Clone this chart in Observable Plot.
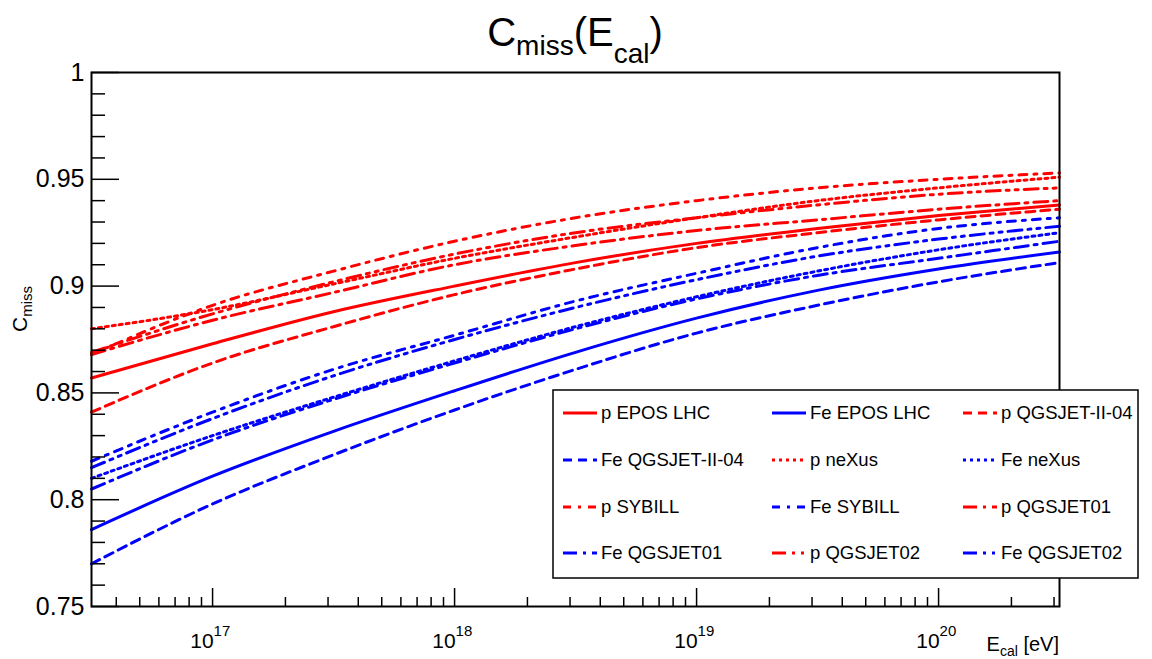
<!DOCTYPE html>
<html><head><meta charset="utf-8">
<script src="https://cdn.jsdelivr.net/npm/d3@7"></script>
<script src="https://cdn.jsdelivr.net/npm/@observablehq/plot@0.6"></script>
<style>
body{margin:0;background:#fff;}
svg{font-family:"Liberation Sans",Arial,Helvetica,sans-serif;}
</style>
</head><body><div id="chart"></div>
<script>
// ---- data ----
const energies = [3.16e16, 1e17, 3.16e17, 1e18, 3.16e18, 1e19, 3.16e19, 1e20, 3.16e20];

const pEPOS      = [0.857, 0.873, 0.888, 0.900, 0.911, 0.920, 0.927, 0.933, 0.938];
const pQGSJETII  = [0.841, 0.864, 0.881, 0.896, 0.908, 0.918, 0.925, 0.931, 0.936];
const pNeXus     = [0.880, 0.889, 0.901, 0.913, 0.923, 0.932, 0.940, 0.946, 0.951];
const pSYBILL    = [0.868, 0.891, 0.907, 0.921, 0.932, 0.940, 0.946, 0.950, 0.953];
const pQGSJET01  = [0.868, 0.884, 0.897, 0.910, 0.919, 0.926, 0.931, 0.936, 0.940];
const pQGSJET02  = [0.869, 0.887, 0.902, 0.915, 0.925, 0.932, 0.938, 0.943, 0.946];

const feEPOS     = [0.786, 0.811, 0.832, 0.851, 0.869, 0.885, 0.898, 0.908, 0.916];
const feQGSJETII = [0.770, 0.798, 0.821, 0.842, 0.861, 0.878, 0.891, 0.902, 0.911];
const feNeXus    = [0.810, 0.830, 0.848, 0.865, 0.881, 0.895, 0.907, 0.917, 0.925];
const feSYBILL   = [0.818, 0.841, 0.861, 0.877, 0.893, 0.906, 0.918, 0.927, 0.932];
const feQGSJET01 = [0.805, 0.828, 0.847, 0.864, 0.880, 0.894, 0.905, 0.913, 0.921];
const feQGSJET02 = [0.815, 0.838, 0.858, 0.875, 0.890, 0.903, 0.914, 0.922, 0.928];

const seriesNames = ["p EPOS LHC","Fe EPOS LHC","p QGSJET-II-04","Fe QGSJET-II-04","p neXus","Fe neXus",
                     "p SYBILL","Fe SYBILL","p QGSJET01","Fe QGSJET01","p QGSJET02","Fe QGSJET02"];
const seriesValues = [pEPOS, feEPOS, pQGSJETII, feQGSJETII, pNeXus, feNeXus,
                      pSYBILL, feSYBILL, pQGSJET01, feQGSJET01, pQGSJET02, feQGSJET02];

const yMajorTicks = [0.75, 0.8, 0.85, 0.9, 0.95, 1];
const xMajorTicks = [1e17, 1e18, 1e19, 1e20];
const xTickExponents = ["17", "18", "19", "20"];

// ---- styles ----
const primaryColor = {p: "#ff0000", Fe: "#0000ff"};
const modelDash = {
  "EPOS LHC": null,
  "QGSJET-II-04": "9 6",
  "neXus": "3 4",
  "SYBILL": "8 7 3 7",
  "QGSJET01": "14 6 3 6",
  "QGSJET02": "14 6 3 6 3 6"
};

const rows = [];
seriesNames.forEach((name, i) => {
  seriesValues[i].forEach((c, j) => rows.push({series: name, E: energies[j], C: c}));
});
const primaryOf = n => n.split(" ")[0];
const modelOf = n => n.slice(n.indexOf(" ") + 1);

const W = 1152, H = 659;
const mL = 91, mR = 93, mT = 72, mB = 53;
const pw = W - mL - mR, ph = H - mT - mB;

const yMinor = d3.range(76, 100).filter(v => v % 5 !== 0).map(v => v / 100);
const xMinor = [];
for (let e = 16; e <= 20; e++) for (let m = 2; m <= 9; m++) {
  const v = m * Math.pow(10, e);
  if (v >= 3.16e16 && v <= 3.16e20) xMinor.push(v);
}

const lineMarks = seriesNames.map(name => Plot.line(rows.filter(r => r.series === name), {
  x: "E", y: "C",
  stroke: primaryColor[primaryOf(name)],
  strokeWidth: 3,
  strokeDasharray: modelDash[modelOf(name)] || undefined,
  curve: "monotone-x"
}));

const plot = Plot.plot({
  width: W, height: H,
  marginLeft: mL, marginRight: mR, marginTop: mT, marginBottom: mB,
  x: {type: "log", domain: [3.16e16, 3.16e20], axis: null},
  y: {domain: [0.75, 1], axis: null},
  style: {background: "white", color: "black", fontFamily: "Liberation Sans, Arial, sans-serif"},
  marks: [
    ...lineMarks,
    // y ticks (inside frame)
    Plot.ruleY(yMajorTicks, {y: d => d, stroke: "black", strokeWidth: 1.5, insetRight: pw - 28}),
    Plot.ruleY(yMinor, {y: d => d, stroke: "black", strokeWidth: 1.5, insetRight: pw - 14}),
    // x ticks
    Plot.ruleX(xMajorTicks, {x: d => d, stroke: "black", strokeWidth: 1.5, insetTop: ph - 18}),
    Plot.ruleX(xMinor, {x: d => d, stroke: "black", strokeWidth: 1.5, insetTop: ph - 9}),
    // y tick labels
    Plot.text(yMajorTicks, {y: d => d, text: d => String(d), frameAnchor: "left", textAnchor: "end", dx: -7, fontSize: 25, fill: "black"}),
    // x tick labels 10^n
    Plot.text(xMajorTicks, {x: d => d, text: () => "10", frameAnchor: "bottom", textAnchor: "end", lineAnchor: "bottom", dy: 41, dx: 1, fontSize: 21, fill: "black"}),
    Plot.text(xMajorTicks, {x: d => d, text: (d, i) => xTickExponents[i], frameAnchor: "bottom", textAnchor: "start", lineAnchor: "bottom", dy: 29, dx: 1, fontSize: 15, fill: "black"}),
    Plot.frame({stroke: "black", strokeWidth: 2})
  ]
});

document.getElementById("chart").appendChild(plot);

const svg = d3.select(plot);
// Title
const t = svg.append("text").attr("x", 575).attr("y", 46).attr("text-anchor", "middle")
  .attr("font-size", 40).attr("fill", "black");
t.append("tspan").text("C");
t.append("tspan").attr("font-size", 28).attr("dy", 9).text("miss");
t.append("tspan").attr("dy", -9).text("(E");
t.append("tspan").attr("font-size", 28).attr("dy", 17).text("cal");
t.append("tspan").attr("dy", -17).text(")");

// Y axis title
const yt = svg.append("text").attr("transform", "translate(27,286) rotate(-90)")
  .attr("text-anchor", "end").attr("font-size", 21).attr("fill", "black");
yt.append("tspan").text("C");
yt.append("tspan").attr("font-size", 15).attr("dy", 5).text("miss");

// X axis title
const xt = svg.append("text").attr("x", W - mR).attr("y", 651).attr("text-anchor", "end")
  .attr("font-size", 20).attr("fill", "black");
xt.append("tspan").text("E");
xt.append("tspan").attr("font-size", 14).attr("dy", 5).text("cal");
xt.append("tspan").attr("dy", -5).text(" [eV]");

// Legend
const lg = svg.append("g").attr("text-anchor", "start");
lg.append("rect").attr("x", 553).attr("y", 390).attr("width", 585).attr("height", 188)
  .attr("fill", "white").attr("stroke", "black").attr("stroke-width", 1.5);
const colX = [563, 772, 963];
const rowY = [413, 460, 507, 553];
seriesNames.forEach((name, i) => {
  const cx = colX[i % 3], cy = rowY[Math.floor(i / 3)];
  lg.append("line").attr("x1", cx).attr("x2", cx + 34).attr("y1", cy).attr("y2", cy)
    .attr("stroke", primaryColor[primaryOf(name)]).attr("stroke-width", 3)
    .attr("stroke-dasharray", modelDash[modelOf(name)] || null);
  lg.append("text").attr("x", cx + 38).attr("y", cy).attr("dy", "0.35em")
    .attr("text-anchor", "start")
    .attr("font-size", 18.5).attr("fill", "black").text(name);
});
</script>
</body></html>
